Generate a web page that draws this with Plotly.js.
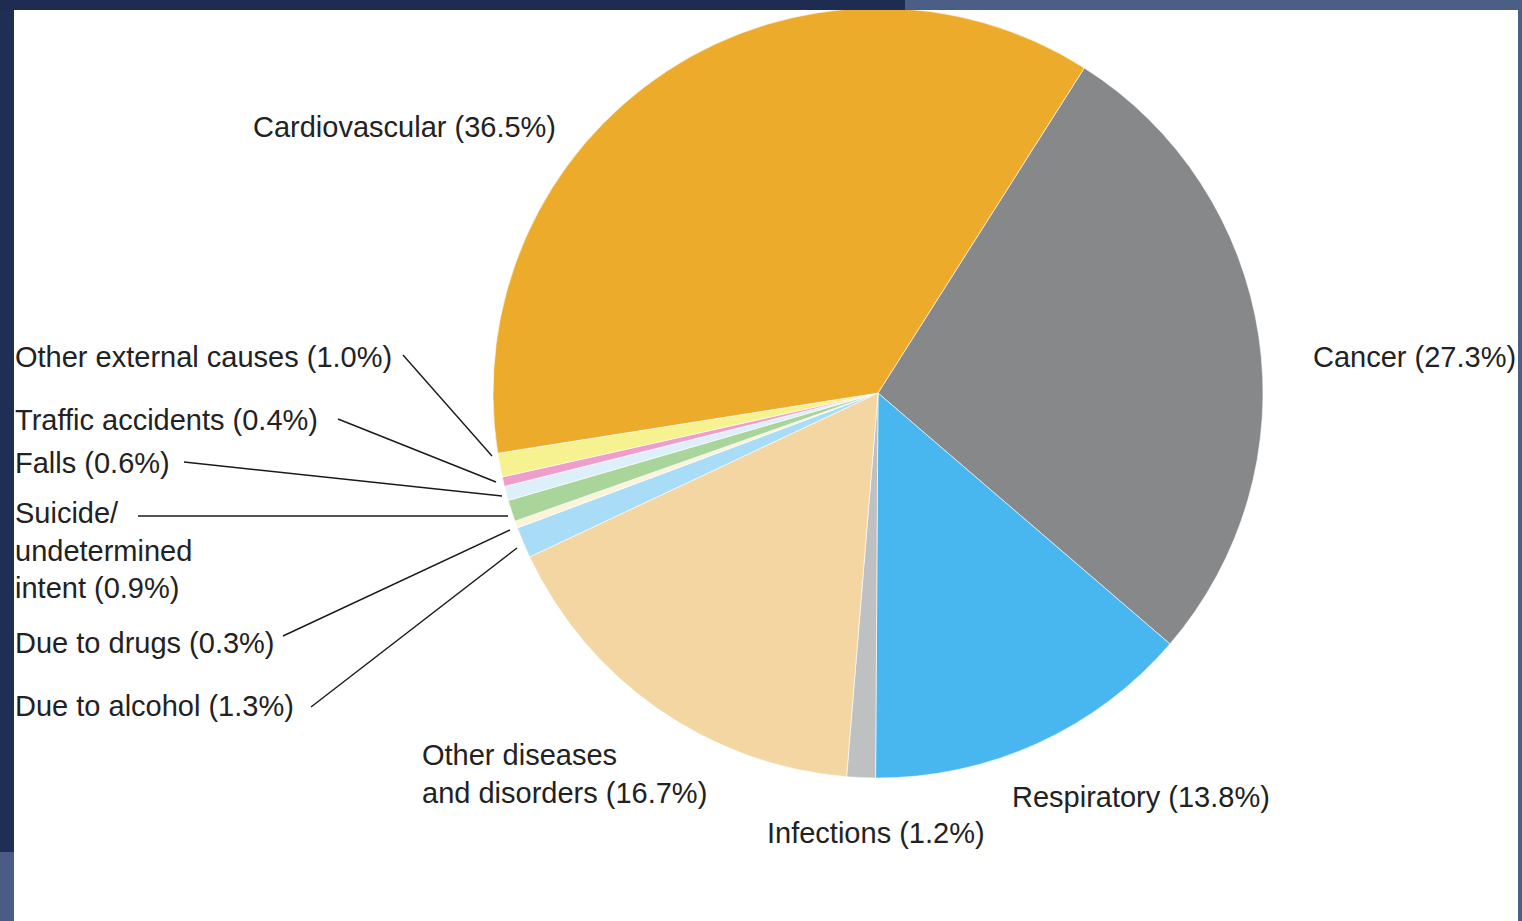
<!DOCTYPE html>
<html>
<head>
<meta charset="utf-8">
<script src="https://cdn.plot.ly/plotly-3.0.1.min.js"></script>
<style>
  html, body { margin: 0; padding: 0; background: #ffffff; }
  #chart { width: 1522px; height: 921px; }
</style>
</head>
<body>
<div id="chart"></div>
<script>
// ---- data ----
var categories = [
  "Cancer", "Respiratory", "Infections", "Other diseases and disorders",
  "Due to alcohol", "Due to drugs", "Suicide/undetermined intent", "Falls",
  "Traffic accidents", "Other external causes", "Cardiovascular"
];
var labelLines = [
  "Cancer", "Respiratory", "Infections", "Other diseases<br>and disorders",
  "Due to alcohol", "Due to drugs", "Suicide/<br>undetermined<br>intent", "Falls",
  "Traffic accidents", "Other external causes", "Cardiovascular"
];
var shares = [27.3, 13.8, 1.2, 16.7, 1.3, 0.3, 0.9, 0.6, 0.4, 1.0, 36.5];
var sliceColors = [
  "#87888a", "#48b6ef", "#bfc0c2", "#f4d6a2",
  "#a9dcf6", "#fbf3da", "#a9d59b", "#ddeff9",
  "#ef9dcb", "#f6f28f", "#edab2b"
];

// ---- layout helpers (pixel -> paper) ----
var W = 1522, H = 921;
function px(x) { return x / W; }
function py(y) { return 1 - y / H; }

var cx = 878, cy = 393, R = 385;

// label placement (left edge x, vertical centre y) and leader lines
var labelPos = [
  [1311, 357],  // Cancer
  [1010, 797],  // Respiratory
  [765, 833],   // Infections
  [420, 774],   // Other diseases
  [13, 706],    // alcohol
  [13, 643],    // drugs
  [13, 550],    // suicide
  [13, 463],    // falls
  [13, 420],    // traffic
  [13, 357],    // other external
  [251, 127]    // cardiovascular
];
var leaders = [
  null, null, null, null,
  [311, 707, 517, 548],
  [283, 636, 510, 530],
  [138, 516, 508, 516],
  [184, 462, 502, 496],
  [338, 419, 496, 482],
  [403, 355, 492, 456],
  null
];

var annotations = categories.map(function (c, i) {
  return {
    xref: "paper", yref: "paper",
    x: px(labelPos[i][0]), y: py(labelPos[i][1]),
    xanchor: "left", yanchor: "middle", align: "left",
    showarrow: false,
    text: labelLines[i] + " (" + shares[i].toFixed(1) + "%)",
    font: { family: "Liberation Sans, Arial, Helvetica, sans-serif", size: 29, color: "#222222" }
  };
});

var shapes = [];
// background frame strips
shapes.push({ type: "rect", xref: "paper", yref: "paper", x0: 0, x1: px(905), y0: py(10), y1: 1, fillcolor: "#1e2c51", line: { width: 0 }, layer: "above" });
shapes.push({ type: "rect", xref: "paper", yref: "paper", x0: px(905), x1: 1, y0: py(10), y1: 1, fillcolor: "#4b5e86", line: { width: 0 }, layer: "above" });
shapes.push({ type: "rect", xref: "paper", yref: "paper", x0: 0, x1: px(14), y0: py(852), y1: py(10), fillcolor: "#1f2e55", line: { width: 0 }, layer: "above" });
shapes.push({ type: "rect", xref: "paper", yref: "paper", x0: 0, x1: px(14), y0: 0, y1: py(852), fillcolor: "#4a5b86", line: { width: 0 }, layer: "above" });
shapes.push({ type: "rect", xref: "paper", yref: "paper", x0: px(1518), x1: 1, y0: 0, y1: py(10), fillcolor: "#4b5e86", line: { width: 0 }, layer: "above" });

leaders.forEach(function (l) {
  if (!l) return;
  shapes.push({
    type: "line", xref: "paper", yref: "paper",
    x0: px(l[0]), y0: py(l[1]), x1: px(l[2]), y1: py(l[3]),
    line: { color: "#1a1a1a", width: 1.4 }, layer: "above"
  });
});

var trace = {
  type: "pie",
  labels: categories,
  values: shares,
  sort: false,
  direction: "clockwise",
  rotation: 32.4,
  marker: { colors: sliceColors, line: { color: "#ffffff", width: 0.6 } },
  textinfo: "none",
  hoverinfo: "label+percent",
  showlegend: false,
  domain: { x: [px(cx - R), px(cx + R)], y: [py(cy + R), py(cy - R)] }
};

var layout = {
  width: W, height: H,
  margin: { l: 0, r: 0, t: 0, b: 0 },
  paper_bgcolor: "#ffffff",
  showlegend: false,
  annotations: annotations,
  shapes: shapes
};

Plotly.newPlot("chart", [trace], layout, { displayModeBar: false, staticPlot: true });
</script>
</body>
</html>
